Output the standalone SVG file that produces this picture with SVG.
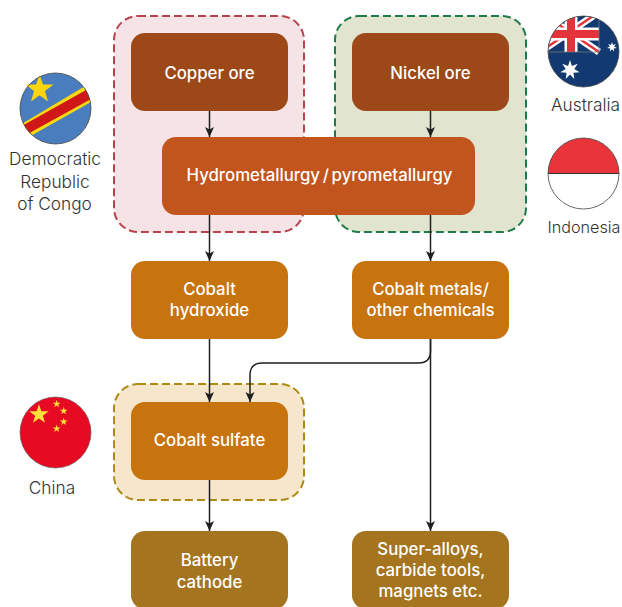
<svg xmlns="http://www.w3.org/2000/svg" width="622" height="607" viewBox="0 0 622 607">
<style>
text{font-family:"Inter","Liberation Sans",sans-serif;text-anchor:middle}
.n{font-size:16.800px;font-weight:450;fill:#fff}
.l{font-size:17.300px;font-weight:300;fill:#333}
.c{fill:none;stroke:#1f1f1f;stroke-width:1.5;marker-end:url(#a)}
.b{stroke-width:2;stroke-dasharray:8 4}
.rim{fill:none;stroke:#444;stroke-width:.8}
.y{fill:#ffdf3a}
</style>
<defs>
<marker id="a" markerUnits="userSpaceOnUse" markerWidth="12" markerHeight="10" refX="10" refY="5" orient="auto"><path d="M0 .5L10 5L0 9.500L2.500 5Z" fill="#1f1f1f"/></marker>
<clipPath id="au"><circle cx="583.500" cy="51.500" r="35.500"/></clipPath>
<clipPath id="id"><circle cx="583.500" cy="173.500" r="35.500"/></clipPath>
<clipPath id="cd"><circle cx="55.500" cy="108.500" r="35.500"/></clipPath>
<path id="s7" d="M570 61L571.740 66.400L577.040 64.380L573.900 69.110L578.770 72L573.130 72.500L573.900 78.110L570 74L566.100 78.110L566.870 72.500L561.230 72L566.100 69.110L562.960 64.380L568.260 66.400Z" fill="#fff"/>
<path id="s5" d="M0-3.200L.75-1 3.040-1 1.200.38 1.880 2.590 0 1.220-1.880 2.590-1.200.38-3.040-1-.75-1Z" class="y"/>
</defs>
<g id="region-drc"><rect class="b" x="114" y="16" width="190" height="216" rx="24" fill="#f5e3e6" stroke="#b9434c"/></g>
<g id="region-indonesia-australia"><rect class="b" x="335" y="16" width="191" height="216" rx="24" fill="#e1e5cf" stroke="#1f7a4a"/></g>
<g id="region-china"><rect class="b" x="114" y="384" width="190" height="116" rx="24" fill="#f6e6cc" stroke="#ad8a14"/></g>
<g id="connectors">
<path class="c" d="M209.500 111V137"/>
<path class="c" d="M430.500 111V137"/>
<path class="c" d="M209.500 215V261"/>
<path class="c" d="M430.500 215V261"/>
<path class="c" d="M209.500 339V402"/>
<path class="c" d="M430.500 339V531"/>
<path class="c" d="M430.500 339V351Q430.500 363 418.500 363H262Q250 363 250 375V402"/>
<path class="c" d="M209.500 480V531"/>
</g>
<g id="copper-ore"><rect x="131" y="33" width="157" height="78" rx="14" fill="#9c4818"/><text class="n" x="209.500" y="78.500">Copper ore</text></g>
<g id="nickel-ore"><rect x="352" y="33" width="157" height="78" rx="14" fill="#9c4818"/><text class="n" x="430.500" y="78.500">Nickel ore</text></g>
<g id="hydrometallurgy"><rect x="162" y="137" width="313" height="78" rx="14" fill="#c2541d"/><text class="n" x="319.500" y="181" word-spacing="-1.800">Hydrometallurgy / pyrometallurgy</text></g>
<g id="cobalt-hydroxide"><rect x="131" y="261" width="157" height="78" rx="14" fill="#c7730e"/><text class="n" x="209.500" y="295">Cobalt</text><text class="n" x="209.500" y="315.500">hydroxide</text></g>
<g id="cobalt-metals"><rect x="352" y="261" width="157" height="78" rx="14" fill="#c7730e"/><text class="n" x="430.500" y="295">Cobalt metals/</text><text class="n" x="430.500" y="315.500">other chemicals</text></g>
<g id="cobalt-sulfate"><rect x="131" y="402" width="157" height="78" rx="14" fill="#c7730e"/><text class="n" x="209.500" y="446">Cobalt sulfate</text></g>
<g id="battery-cathode"><rect x="131" y="531" width="157" height="78" rx="14" fill="#a4741f"/><text class="n" x="209.500" y="566">Battery</text><text class="n" x="209.500" y="588">cathode</text></g>
<g id="super-alloys"><rect x="352" y="531" width="157" height="78" rx="14" fill="#a4741f"/><text class="n" x="430.500" y="555">Super-alloys,</text><text class="n" x="430.500" y="576">carbide tools,</text><text class="n" x="430.500" y="597">magnets etc.</text></g>
<g id="flag-drc">
<g clip-path="url(#cd)"><rect x="20" y="73" width="71" height="71" fill="#4a7dbd"/>
<path d="M10 131L100 77V97L10 147.500Z" fill="#f8d90f"/>
<path d="M10 132.500L100 82.300V94L10 143.700Z" fill="#cf1717"/></g>
<path d="M39.500 74.500L43 84.500H53.500L45 91L48 101.500L39.500 95.200L31 101.500L34 91L25.500 84.500H36Z" fill="#fcd60a"/>
<circle class="rim" cx="55.500" cy="108.500" r="35.500"/></g>
<g id="flag-australia">
<g clip-path="url(#au)"><rect x="548" y="16" width="71" height="71" fill="#133a70"/>
<rect x="548" y="14" width="51" height="38" fill="#133a70"/>
<path d="M540 12L599 52M599 12L540 52" stroke="#fff" stroke-width="7"/>
<path d="M540 12L599 52M599 12L540 52" stroke="#e5333c" stroke-width="2.500"/>
<path d="M571 12V52M545 34H599" stroke="#fff" stroke-width="13"/>
<path d="M571 12V52M545 34H599" stroke="#e5333c" stroke-width="8"/>
<path d="M599 14V52H546" fill="none" stroke="#777" stroke-width=".8"/>
</g>
<use href="#s7" transform="translate(570 70) scale(1.100) translate(-570 -70)"/>
<use href="#s7" transform="translate(612 47) scale(.55) translate(-570 -70)"/>
<circle class="rim" cx="583.500" cy="51.500" r="35.500"/></g>
<g id="flag-indonesia">
<g clip-path="url(#id)"><rect x="548" y="138" width="71" height="35.500" fill="#ea343c"/><rect x="548" y="173.500" width="71" height="36" fill="#fff"/></g>
<path d="M548 173.500H619" stroke="#333" stroke-width="1"/>
<circle class="rim" cx="583.500" cy="173.500" r="35.500"/></g>
<g id="flag-china">
<circle cx="55.500" cy="432.500" r="35.500" fill="#e60a22" stroke="#555" stroke-width=".6"/>
<use href="#s5" transform="translate(39 414.500) scale(3.200)"/>
<use href="#s5" transform="translate(56.700 404) scale(1.300)"/>
<use href="#s5" transform="translate(63.700 411) scale(1.300)"/>
<use href="#s5" transform="translate(63.700 421.700) scale(1.300)"/>
<use href="#s5" transform="translate(56.700 428.700) scale(1.300)"/></g>
<g id="labels">
<text class="l" x="55" y="165">Democratic</text><text class="l" x="55" y="187.500">Republic</text><text class="l" x="54.500" y="209.500">of Congo</text>
<text class="l" x="585.500" y="111">Australia</text>
<text class="l" x="584" y="232.500" style="font-size:16.200px">Indonesia</text>
<text class="l" x="52" y="493.500">China</text>
</g>
</svg>
